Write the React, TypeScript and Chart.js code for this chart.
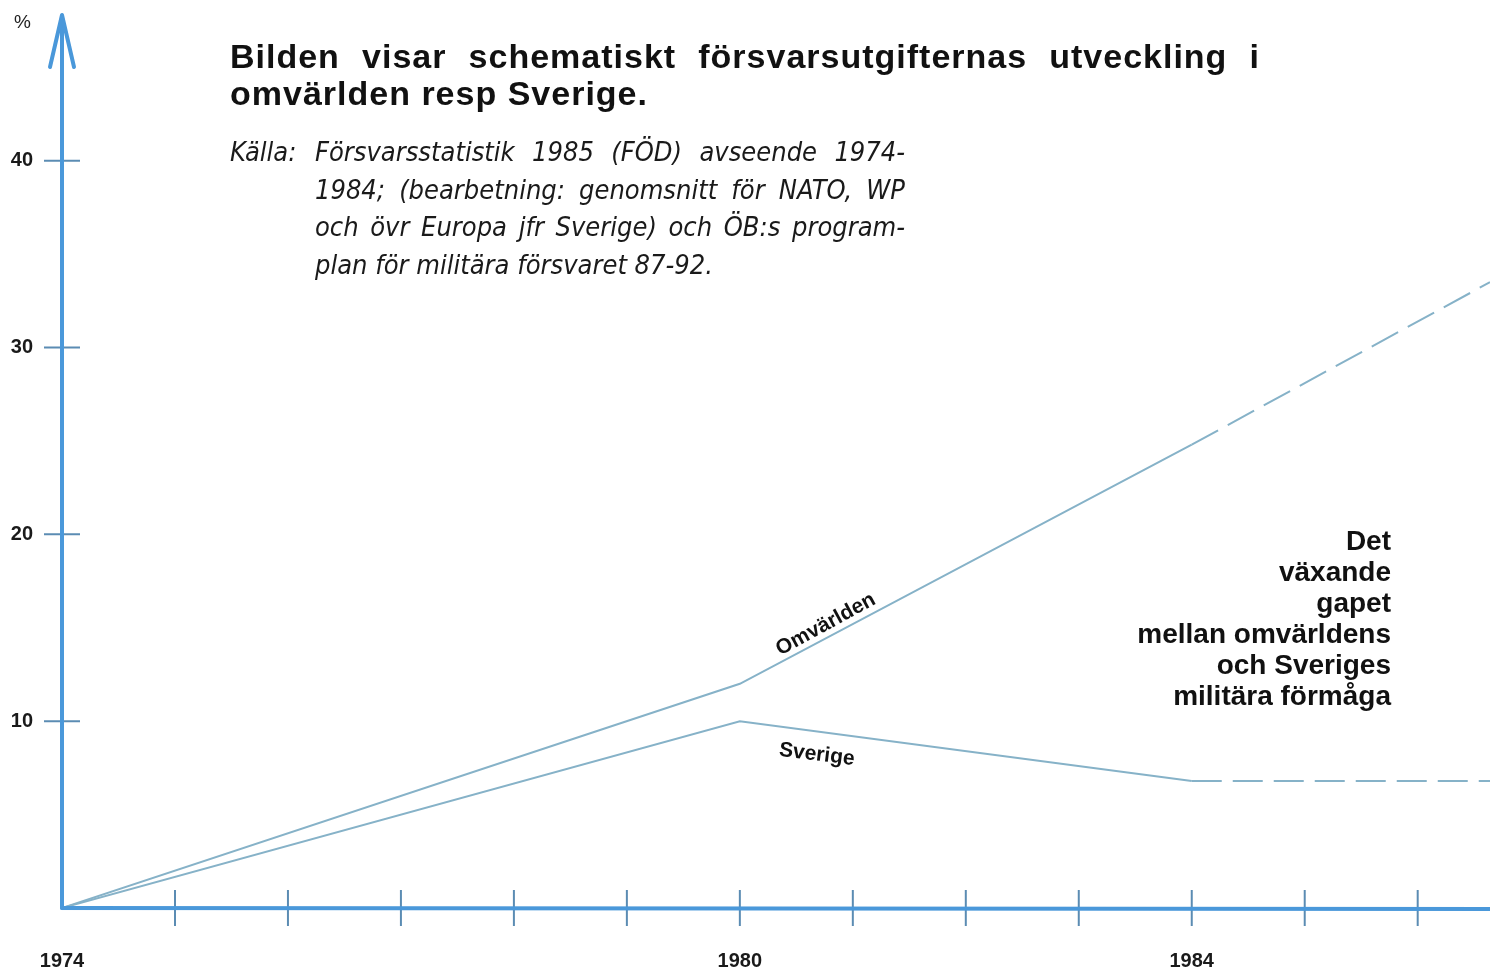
import React, { useEffect, useRef } from "react";
import { Chart, registerables } from "chart.js";

Chart.register(...registerables);

// ---- data ----
const years = [1974, 1980, 1984, 1986.64];
const omvarlden = [0, 12, 24.8, 33.5];
const sverige = [0, 10, 6.8, 6.8];
const xTickYears = [1974, 1975, 1976, 1977, 1978, 1979, 1980, 1981, 1982, 1983, 1984, 1985, 1986];
const xLabelYears = [1974, 1980, 1984];
const yTicks = [10, 20, 30, 40];
const dashFromYear = 1984;
const xMin = 1974;
const xMax = 1986.64;
const yMax = 47.8;

const titleLine1 = "Bilden visar schematiskt försvarsutgifternas utveckling i";
const titleLine2 = "omvärlden resp Sverige.";
const sourceLabel = "Källa:";
const sourceLines = [
  "Försvarsstatistik 1985 (FÖD) avseende 1974-",
  "1984; (bearbetning: genomsnitt för NATO, WP",
  "och övr Europa jfr Sverige) och ÖB:s program-",
  "plan för militära försvaret 87-92.",
];
const gapLines = ["Det", "växande", "gapet", "mellan omvärldens", "och Sveriges", "militära förmåga"];

const SANS = '"Liberation Sans", Arial, Helvetica, sans-serif';
const COND = '"Liberation Sans Narrow", "DejaVu Sans Condensed", "Liberation Sans", sans-serif';
const LINE_COLOR = "#86b2c8";
const AXIS_COLOR = "#4a98da";
const TICK_COLOR = "#5b8cb3";

const axesPlugin = {
  id: "axesPlugin",
  afterDatasetsDraw(chart: any) {
    const { ctx, chartArea, scales } = chart;
    const xs = scales.x;
    const ys = scales.y;
    const x0 = xs.getPixelForValue(xMin);
    const y0 = ys.getPixelForValue(0);
    ctx.save();
    ctx.strokeStyle = TICK_COLOR;
    ctx.lineWidth = 2;
    xs.ticks.forEach((t: any) => {
      if (t.value === xMin) return;
      const px = xs.getPixelForValue(t.value);
      ctx.beginPath();
      ctx.moveTo(px, y0 - 18);
      ctx.lineTo(px, y0 + 18);
      ctx.stroke();
    });
    ys.ticks.forEach((t: any) => {
      if (t.value === 0) return;
      const py = ys.getPixelForValue(t.value);
      ctx.beginPath();
      ctx.moveTo(x0 - 18, py);
      ctx.lineTo(x0 + 18, py);
      ctx.stroke();
    });
    ctx.strokeStyle = AXIS_COLOR;
    ctx.lineWidth = 4;
    ctx.lineCap = "round";
    ctx.lineJoin = "round";
    ctx.beginPath();
    ctx.moveTo(x0, y0);
    ctx.lineTo(chartArea.right, y0 + 1);
    ctx.stroke();
    ctx.beginPath();
    ctx.moveTo(x0, y0);
    ctx.lineTo(x0, chartArea.top + 8);
    ctx.stroke();
    ctx.beginPath();
    ctx.moveTo(x0 - 12, chartArea.top + 52);
    ctx.lineTo(x0, chartArea.top);
    ctx.lineTo(x0 + 12, chartArea.top + 52);
    ctx.stroke();
    ctx.restore();
  },
};

export default function App() {
  const ref = useRef<HTMLCanvasElement | null>(null);

  useEffect(() => {
    if (!ref.current) return;
    const dash = (ctx: any) => (ctx.p0.parsed.x >= dashFromYear ? [30, 11] : undefined);
    const chart = new Chart(ref.current, {
      type: "line",
      data: {
        datasets: [
          {
            label: "Omvärlden",
            data: years.map((x, i) => ({ x, y: omvarlden[i] })),
            borderColor: LINE_COLOR,
            borderWidth: 2,
            pointRadius: 0,
            tension: 0,
            segment: { borderDash: dash },
          } as any,
          {
            label: "Sverige",
            data: years.map((x, i) => ({ x, y: sverige[i] })),
            borderColor: LINE_COLOR,
            borderWidth: 2,
            pointRadius: 0,
            tension: 0,
            segment: { borderDash: dash },
          } as any,
        ],
      },
      options: {
        animation: false,
        responsive: false,
        devicePixelRatio: 1,
        layout: { padding: { top: 15, left: 0, right: 0, bottom: 0 } },
        plugins: { legend: { display: false }, tooltip: { enabled: false }, title: { display: false } },
        scales: {
          x: {
            type: "linear",
            min: xMin,
            max: xMax,
            afterBuildTicks: (s: any) => {
              s.ticks = xTickYears.map((v) => ({ value: v }));
            },
            afterFit: (s: any) => {
              s.height = 64;
              s.paddingLeft = 0;
              s.paddingRight = 0;
            },
            grid: { display: false, drawTicks: false },
            border: { display: false },
            ticks: {
              autoSkip: false,
              maxRotation: 0,
              padding: 41,
              color: "#1a1a1a",
              font: { family: SANS, size: 20, weight: "bold" },
              callback: (v: any) => (xLabelYears.includes(Number(v)) ? String(v) : ""),
            },
          },
          y: {
            type: "linear",
            min: 0,
            max: yMax,
            afterBuildTicks: (s: any) => {
              s.ticks = yTicks.map((v) => ({ value: v }));
            },
            afterFit: (s: any) => {
              s.width = 62;
              s.paddingTop = 0;
              s.paddingBottom = 0;
            },
            grid: { display: false, drawTicks: false },
            border: { display: false },
            ticks: {
              autoSkip: false,
              padding: 29,
              color: "#1a1a1a",
              font: { family: SANS, size: 20, weight: "bold" },
              callback: (v: any) => String(v),
            },
          },
        },
      },
      plugins: [axesPlugin],
    });
    return () => chart.destroy();
  }, []);

  const justLine = { display: "flex", justifyContent: "space-between", columnGap: 7, whiteSpace: "nowrap" } as any;

  return (
    <div
      style={{
        position: "fixed",
        left: 0,
        top: 0,
        width: 1490,
        height: 972,
        background: "#fff",
        overflow: "hidden",
        fontFamily: SANS,
        color: "#111",
      }}
    >
      <canvas ref={ref} width={1490} height={972} style={{ display: "block", width: 1490, height: 972 }} />
      <div style={{ position: "absolute", left: 14, top: 11, fontSize: 19, color: "#222" }}>%</div>
      <div
        style={{
          position: "absolute",
          left: 230,
          top: 38,
          width: 1030,
          fontSize: 34,
          lineHeight: "37px",
          fontWeight: "bold",
          letterSpacing: 1,
        }}
      >
        <div style={justLine}>
          {titleLine1.split(" ").map((w, i) => (
            <span key={i}>{w}</span>
          ))}
        </div>
        <div>{titleLine2}</div>
      </div>
      <div
        style={{
          position: "absolute",
          left: 230,
          top: 133,
          fontSize: 27,
          lineHeight: "37.5px",
          fontStyle: "italic",
          fontFamily: COND,
          color: "#1a1a1a",
        }}
      >
        {sourceLabel}
      </div>
      <div
        style={{
          position: "absolute",
          left: 315,
          top: 133,
          width: 590,
          fontSize: 27,
          lineHeight: "37.5px",
          fontStyle: "italic",
          fontFamily: COND,
          color: "#1a1a1a",
        }}
      >
        {sourceLines.map((l, i) =>
          i < sourceLines.length - 1 ? (
            <div key={i} style={justLine}>
              {l.split(" ").map((w, j) => (
                <span key={j}>{w}</span>
              ))}
            </div>
          ) : (
            <div key={i} style={{ whiteSpace: "nowrap" }}>
              {l}
            </div>
          )
        )}
      </div>
      <div
        style={{
          position: "absolute",
          right: 1490 - 1391,
          top: 525,
          textAlign: "right",
          fontSize: 28,
          lineHeight: "31px",
          fontWeight: "bold",
          whiteSpace: "nowrap",
        }}
      >
        {gapLines.map((l, i) => (
          <div key={i}>{l}</div>
        ))}
      </div>
      <div
        style={{
          position: "absolute",
          left: 825,
          top: 623,
          transform: "translate(-50%, -50%) rotate(-28.5deg)",
          fontSize: 21,
          fontWeight: "bold",
          whiteSpace: "nowrap",
          lineHeight: "21px",
        }}
      >
        Omvärlden
      </div>
      <div
        style={{
          position: "absolute",
          left: 817,
          top: 753,
          transform: "translate(-50%, -50%) rotate(7deg)",
          fontSize: 21,
          fontWeight: "bold",
          whiteSpace: "nowrap",
          lineHeight: "21px",
        }}
      >
        Sverige
      </div>
    </div>
  );
}
